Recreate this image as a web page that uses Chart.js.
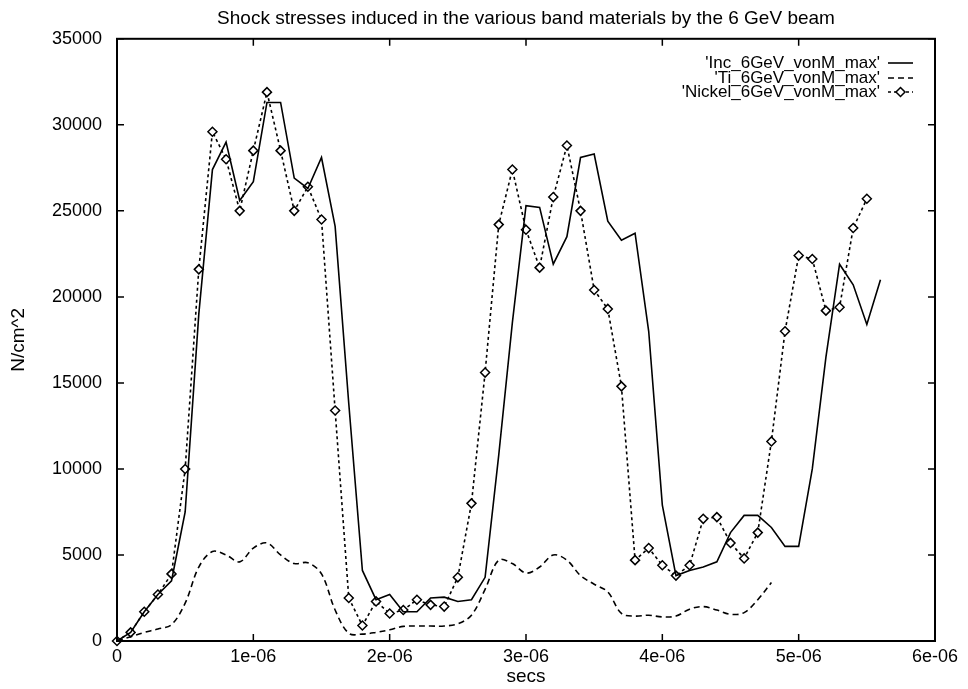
<!DOCTYPE html>
<html>
<head>
<meta charset="utf-8">
<script src="https://cdn.jsdelivr.net/npm/chart.js@4.4.1/dist/chart.umd.min.js"></script>
<style>
  body { margin: 0; background: #fff; }
  canvas { display: block; }
</style>
</head>
<body>
<canvas id="grafico" width="968" height="689"></canvas>
<script>
// time points in microseconds (each series uses the first N)
const timeUs = [0, 0.1, 0.2, 0.3, 0.4, 0.5, 0.6, 0.7, 0.8, 0.9,
  1.0, 1.1, 1.2, 1.3, 1.4, 1.5, 1.6, 1.7, 1.8, 1.9,
  2.0, 2.1, 2.2, 2.3, 2.4, 2.5, 2.6, 2.7, 2.8, 2.9,
  3.0, 3.1, 3.2, 3.3, 3.4, 3.5, 3.6, 3.7, 3.8, 3.9,
  4.0, 4.1, 4.2, 4.3, 4.4, 4.5, 4.6, 4.7, 4.8, 4.9,
  5.0, 5.1, 5.2, 5.3, 5.4, 5.5, 5.6];

const incValues = [0, 500, 1700, 2700, 3500, 7500, 19000, 27400, 29000, 25600,
  26700, 31300, 31300, 26900, 26300, 28100, 24100, 13800, 4100, 2400,
  2700, 1700, 1700, 2500, 2550, 2300, 2400, 3700, 10800, 18500,
  25300, 25200, 21900, 23500, 28100, 28300, 24400, 23300, 23700, 18000,
  7900, 3800, 4100, 4300, 4600, 6300, 7300, 7300, 6600, 5500,
  5500, 10000, 16500, 21900, 20700, 18400, 21000];

const tiValues = [0, 250, 500, 700, 950, 2200, 4300, 5200, 5000, 4600,
  5400, 5700, 5000, 4500, 4550, 3900, 1800, 450, 400, 500,
  650, 850, 870, 870, 870, 1000, 1500, 3000, 4700, 4500,
  3950, 4300, 5000, 4700, 3800, 3300, 2850, 1600, 1450, 1500,
  1400, 1450, 1850, 2000, 1800, 1550, 1650, 2400, 3400];

const nickelValues = [0, 500, 1700, 2700, 3900, 10000, 21600, 29600, 28000, 25000,
  28500, 31900, 28500, 25000, 26400, 24500, 13400, 2500, 900, 2300,
  1600, 1800, 2400, 2100, 2000, 3700, 8000, 15600, 24200, 27400,
  23900, 21700, 25800, 28800, 25000, 20400, 19300, 14800, 4700, 5400,
  4400, 3800, 4400, 7100, 7200, 5700, 4800, 6300, 11600, 18000,
  22400, 22200, 19200, 19400, 24000, 25700];

const seriesLabels = ["'Inc_6GeV_vonM_max'", "'Ti_6GeV_vonM_max'", "'Nickel_6GeV_vonM_max'"];
const xTicks = [0, 1e-6, 2e-6, 3e-6, 4e-6, 5e-6, 6e-6];
const xTickLabels = ["0", "1e-06", "2e-06", "3e-06", "4e-06", "5e-06", "6e-06"];
const yTicks = [0, 5000, 10000, 15000, 20000, 25000, 30000, 35000];

const FONT = "'Liberation Sans', Arial, Helvetica, sans-serif";

function toPoints(vals) {
  return vals.map((v, i) => ({ x: timeUs[i] * 1e-6, y: v }));
}

// gnuplot-like frame with inward ticks on all four sides
const framePlugin = {
  id: "frame",
  afterDraw(chart) {
    const { ctx, chartArea: a, scales } = chart;
    const t = 7;
    ctx.save();
    ctx.strokeStyle = "#000";
    ctx.lineWidth = 2;
    ctx.strokeRect(a.left, a.top, a.right - a.left, a.bottom - a.top);
    ctx.lineWidth = 1.5;
    ctx.beginPath();
    xTicks.forEach((v) => {
      const px = scales.x.getPixelForValue(v);
      ctx.moveTo(px, a.bottom); ctx.lineTo(px, a.bottom - t);
      ctx.moveTo(px, a.top); ctx.lineTo(px, a.top + t);
    });
    yTicks.forEach((v) => {
      const py = scales.y.getPixelForValue(v);
      ctx.moveTo(a.left, py); ctx.lineTo(a.left + t, py);
      ctx.moveTo(a.right, py); ctx.lineTo(a.right - t, py);
    });
    ctx.stroke();
    ctx.restore();
  }
};

// legend: text right-aligned, sample to the right (gnuplot style)
const keyPlugin = {
  id: "key",
  afterDatasetsDraw(chart) {
    const { ctx } = chart;
    const textRight = 880, x1 = 888, x2 = 913;
    const rows = [63, 78, 92];
    ctx.save();
    ctx.font = "17px " + FONT;
    ctx.fillStyle = "#000";
    ctx.textAlign = "right";
    ctx.textBaseline = "middle";
    chart.data.datasets.forEach((ds, i) => {
      const y = rows[i];
      ctx.fillText(ds.label, textRight, y);
      ctx.beginPath();
      ctx.setLineDash(ds.borderDash || []);
      ctx.lineWidth = ds.borderWidth;
      ctx.strokeStyle = "#000";
      ctx.moveTo(x1, y); ctx.lineTo(x2, y);
      ctx.stroke();
      ctx.setLineDash([]);
      if (ds.pointRadius > 0) {
        const cx = (x1 + x2) / 2, r = ds.pointRadius;
        ctx.beginPath();
        ctx.moveTo(cx, y - r); ctx.lineTo(cx + r, y); ctx.lineTo(cx, y + r); ctx.lineTo(cx - r, y);
        ctx.closePath();
        ctx.fillStyle = "#fff";
        ctx.fill();
        ctx.lineWidth = ds.pointBorderWidth;
        ctx.stroke();
        ctx.fillStyle = "#000";
      }
    });
    ctx.restore();
  }
};

Chart.defaults.font.family = FONT;
Chart.defaults.font.size = 18;
Chart.defaults.color = "#000";

new Chart(document.getElementById("grafico").getContext("2d"), {
  type: "line",
  data: {
    datasets: [
      {
        label: seriesLabels[0],
        data: toPoints(incValues),
        borderColor: "#000",
        borderWidth: 1.6,
        pointRadius: 0,
        tension: 0
      },
      {
        label: seriesLabels[1],
        data: toPoints(tiValues),
        borderColor: "#000",
        borderWidth: 1.6,
        borderDash: [6, 4],
        pointRadius: 0,
        tension: 0.35
      },
      {
        label: seriesLabels[2],
        data: toPoints(nickelValues),
        borderColor: "#000",
        borderWidth: 1.6,
        borderDash: [3, 3],
        pointStyle: "rectRot",
        pointRadius: 4.5,
        pointBackgroundColor: "#fff",
        pointBorderColor: "#000",
        pointBorderWidth: 1.5,
        tension: 0,
        clip: 8
      }
    ]
  },
  options: {
    responsive: false,
    animation: false,
    devicePixelRatio: 1,
    layout: { padding: { top: 0, right: 33, left: 0, bottom: 0 } },
    plugins: {
      legend: { display: false },
      tooltip: { enabled: false },
      title: {
        display: true,
        fullSize: false,
        text: "Shock stresses induced in the various band materials by the 6 GeV beam",
        font: { size: 19, weight: "normal" },
        padding: { top: 7, bottom: 9 }
      }
    },
    scales: {
      x: {
        type: "linear",
        min: 0,
        max: 6e-6,
        afterBuildTicks: (s) => { s.ticks = xTicks.map((v) => ({ value: v })); },
        afterFit: (s) => { s.height = 48; },
        grid: { display: false, drawTicks: false },
        border: { display: false },
        ticks: {
          padding: 5,
          maxRotation: 0,
          autoSkip: false,
          callback: (v, i) => xTickLabels[i]
        },
        title: { display: true, text: "secs", font: { size: 19 }, padding: { top: 0, bottom: 1 } }
      },
      y: {
        min: 0,
        max: 35000,
        afterBuildTicks: (s) => { s.ticks = yTicks.map((v) => ({ value: v })); },
        afterFit: (s) => { s.width = 117; },
        grid: { display: false, drawTicks: false },
        border: { display: false },
        ticks: {
          padding: 15,
          callback: (v) => String(v)
        },
        title: { display: true, text: "N/cm^2", font: { size: 19 }, padding: { top: 7, bottom: 0 } }
      }
    }
  },
  plugins: [framePlugin, keyPlugin]
});
</script>
</body>
</html>
